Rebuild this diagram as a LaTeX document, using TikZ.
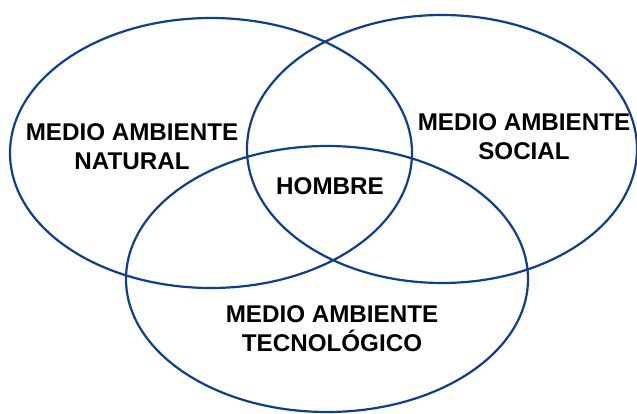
\documentclass[tikz,border=0pt]{standalone}
\usepackage{fontspec}
\setmainfont{Liberation Sans}
\definecolor{ringblue}{RGB}{16,62,138}
\begin{document}
\begin{tikzpicture}[x=1pt, y=-1pt,
    ring/.style={draw=ringblue, line width=2.2pt},
    label/.style={align=center, font=\bfseries\fontsize{24.2}{29}\selectfont}]
  \useasboundingbox (0,0) rectangle (637,414);
  % circles
  \draw [ring] (211,153) ellipse [x radius=201, y radius=135];
  \draw [ring] (442,149) ellipse [x radius=195, y radius=134];
  \draw [ring] (327,279) ellipse [x radius=201, y radius=133];
  % labels
  \node [label] (natural) at (132,147) {MEDIO AMBIENTE\\NATURAL};
  \node [label] (social) at (524,137) {MEDIO AMBIENTE\\SOCIAL};
  \node [label] (hombre) at (330,186) {HOMBRE};
  \node [label] (tecno) at (332,329) {MEDIO AMBIENTE\\TECNOLÓGICO};
\end{tikzpicture}
\end{document}
